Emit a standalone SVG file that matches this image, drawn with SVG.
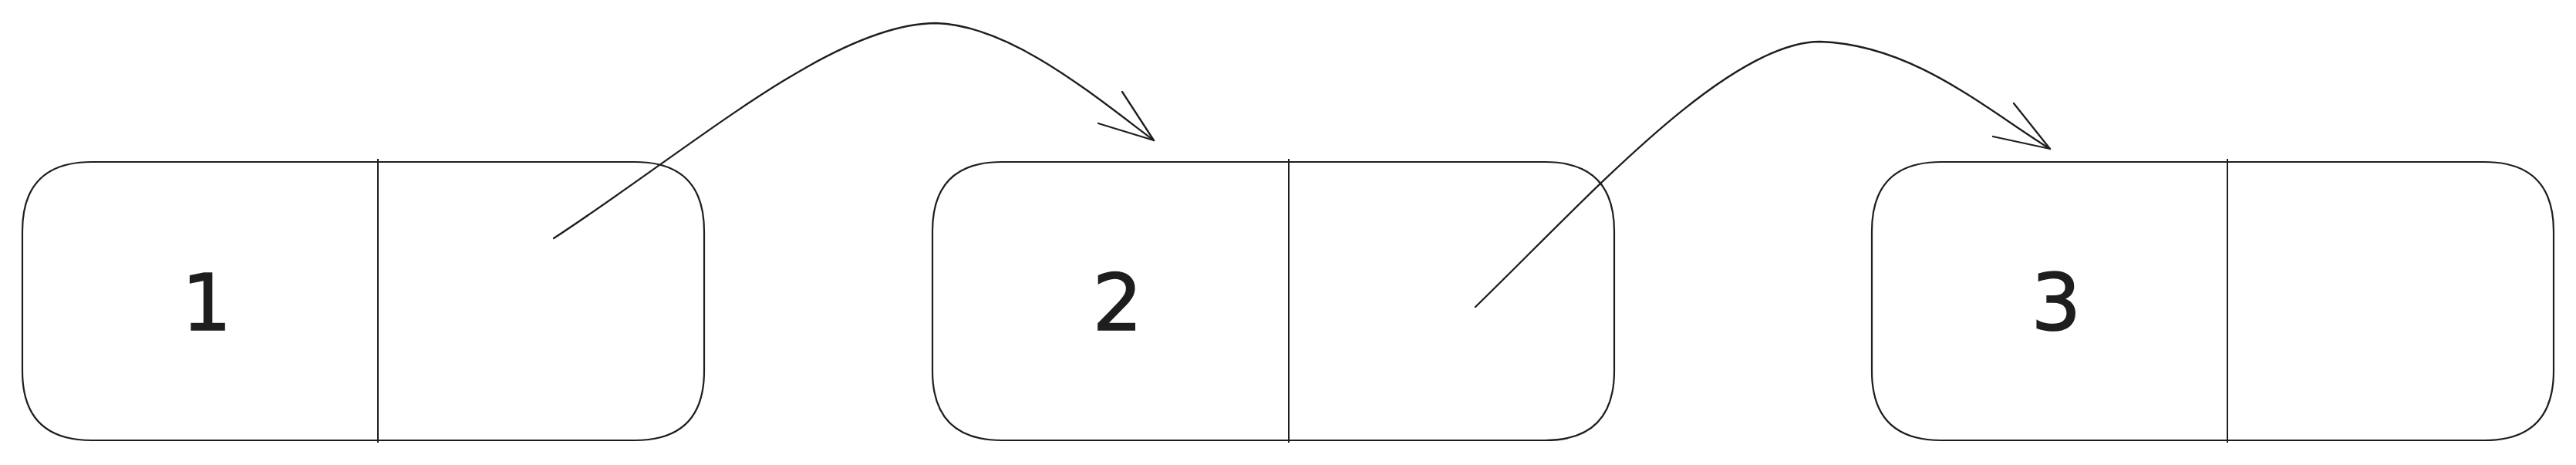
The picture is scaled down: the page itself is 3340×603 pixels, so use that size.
<svg xmlns="http://www.w3.org/2000/svg" width="3340" height="603" viewBox="0 0 3340 603">
  <style>
    .box { fill: none; stroke: #1e1e1e; stroke-width: 2.2; }
    .div { fill: none; stroke: #1e1e1e; stroke-width: 2; }
    .edge { fill: none; stroke: #1e1e1e; stroke-width: 2.3; stroke-linecap: round; stroke-linejoin: round; }
    .lbl { font-family: "DejaVu Sans", "Liberation Sans", sans-serif; font-size: 102px; fill: #1e1e1e; stroke: #1e1e1e; stroke-width: 1.6; text-anchor: middle; }
  </style>
  <defs>
    <path id="shape" d="M90,0 L794,0 Q884,0 884,90 L884,271 Q884,361 794,361 L90,361 Q0,361 0,271 L0,90 Q0,0 90,0 Z"/>
  </defs>
  <rect width="3340" height="603" fill="#ffffff"/>
  <g id="node1">
    <use href="#shape" class="box" x="29" y="210"/>
    <line class="div" x1="490" y1="206" x2="490" y2="574"/>
    <text class="lbl" x="268" y="428">1</text>
  </g>
  <g id="node2">
    <use href="#shape" class="box" x="1209" y="210"/>
    <line class="div" x1="1671" y1="206" x2="1671" y2="574"/>
    <text class="lbl" x="1449" y="428">2</text>
  </g>
  <g id="node3">
    <use href="#shape" class="box" x="2427" y="210"/>
    <line class="div" x1="2888" y1="206" x2="2888" y2="574"/>
    <text class="lbl" x="2666" y="428">3</text>
  </g>
  <g id="connectors">
    <path class="edge" d="M718,309 C900,190 1080,30 1214,30 C1310,33 1416,122 1496,182"/>
    <path class="edge" d="M1455,119 L1496,182 L1424,160"/>
    <path class="edge" d="M1913,398 C2060,255 2240,54 2360,54 C2480,58 2573,140 2658,193"/>
    <path class="edge" d="M2611,134 L2658,193 L2584,177"/>
  </g>
</svg>
